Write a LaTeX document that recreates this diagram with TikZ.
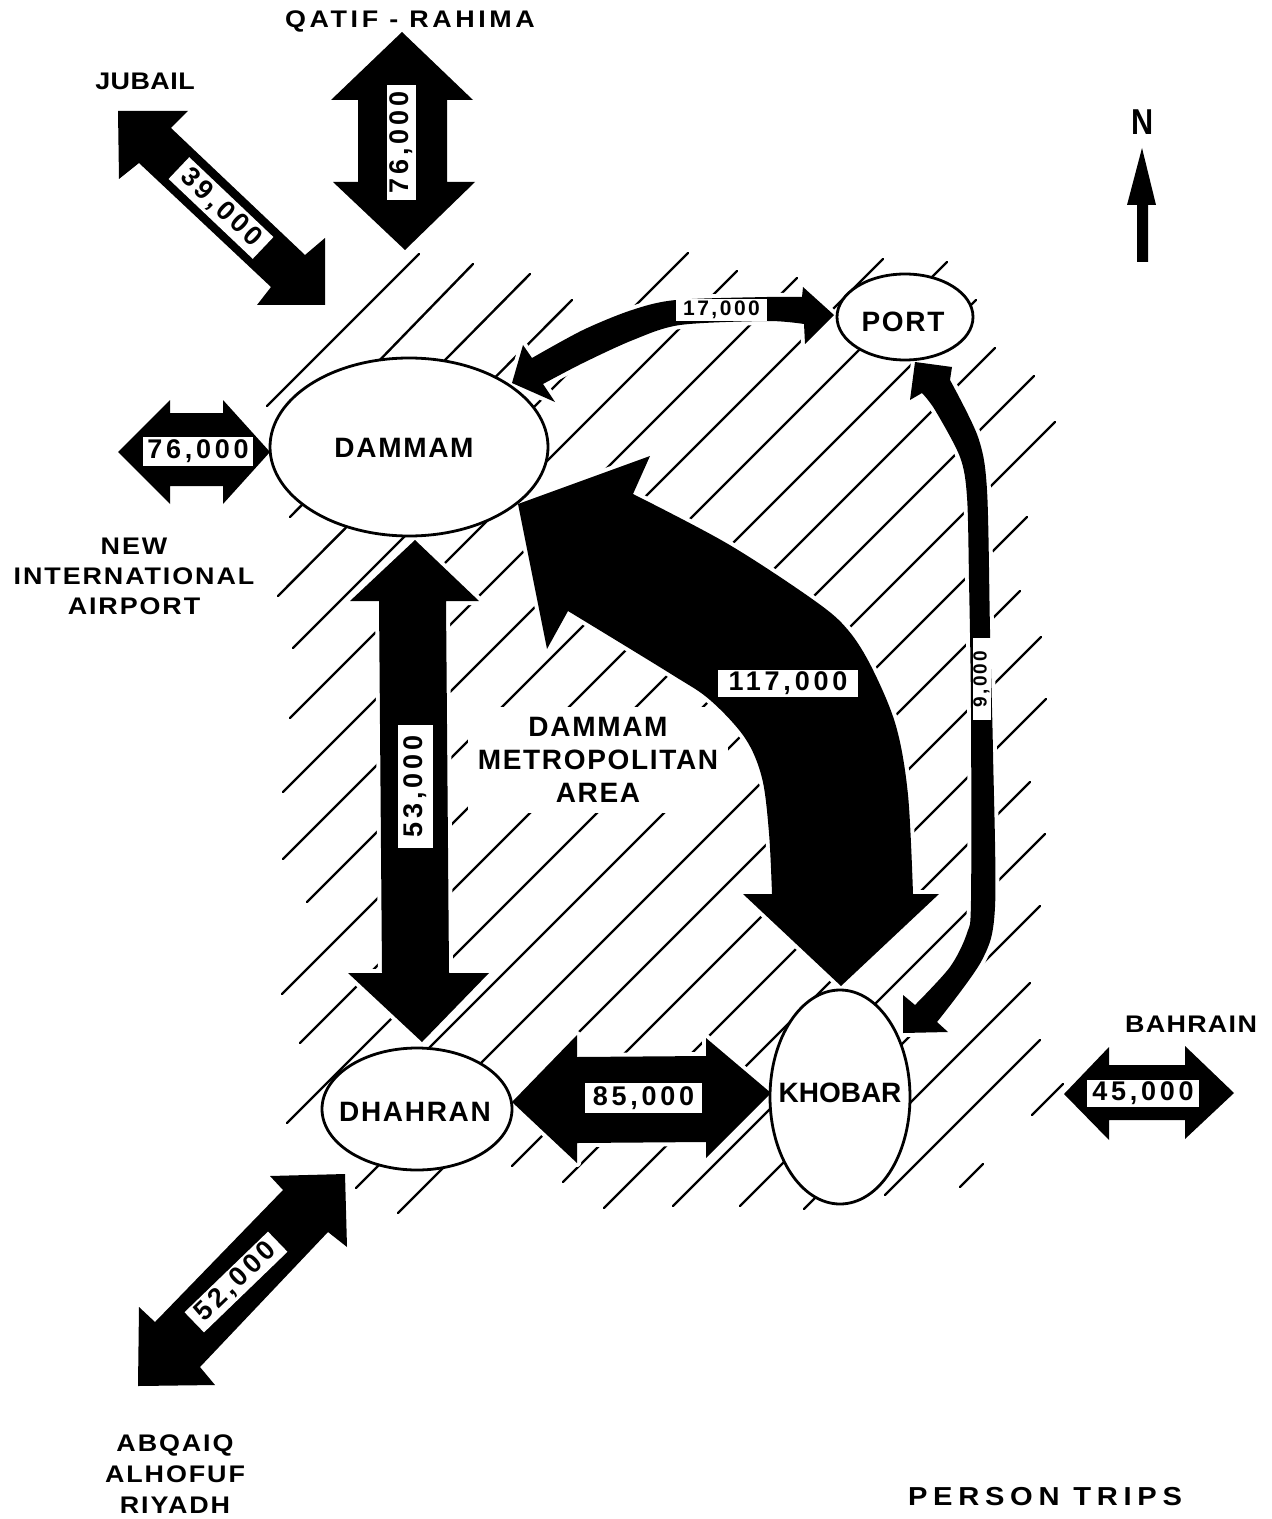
\documentclass[tikz,border=0pt]{standalone}
\usepackage{fontspec}
\usetikzlibrary{shapes.geometric}
\setmainfont{Liberation Sans}
\newfontfamily\lblf[LetterSpace=6]{Liberation Sans}
\newfontfamily\jubf[LetterSpace=2,FakeStretch=1.12]{Liberation Sans}
\newfontfamily\placef[LetterSpace=8,FakeStretch=1.12]{Liberation Sans}
\newfontfamily\bahf[LetterSpace=5.5,FakeStretch=1.12]{Liberation Sans}
\newfontfamily\qatf[LetterSpace=15,FakeStretch=1.12]{Liberation Sans}
\newfontfamily\tripf[LetterSpace=22,FakeStretch=1.12]{Liberation Sans}
\newfontfamily\numf[LetterSpace=14]{Liberation Sans}
\newfontfamily\snumf[LetterSpace=12]{Liberation Sans}
\begin{document}
\begin{tikzpicture}[x=0.5pt,y=-0.5pt,
  hatch/.style={line width=1.2pt, line cap=round},
  blockarrow/.style={fill=black, preaction={draw=white, line width=4pt, line join=round}},
  town/.style={ellipse, draw, line width=1.4pt, fill=white, inner sep=0pt},
  townlbl/.style={inner sep=0pt, font=\lblf\bfseries\fontsize{14}{16}\selectfont},
  numbox/.style={fill=white, inner sep=0pt, font=\numf\bfseries\fontsize{13.5}{15}\selectfont},
  smallnum/.style={fill=white, inner sep=0pt, font=\snumf\bfseries\fontsize{10.5}{12}\selectfont},
  placename/.style={font=\placef\bfseries\fontsize{12}{15}\selectfont, align=center, inner sep=0pt},
]
\useasboundingbox (0,0) rectangle (1271,1519);

% ---------- hatched metropolitan area ----------
\foreach \a/\b/\c/\d in {419/254/267/406, 473/264/376/364, 530/274/290/517, 572/300/278/596,
   688/253/293/648, 737/271/290/718, 797/278/283/792, 883/259/283/859, 947/262/307/902,
   976/300/282/994, 995/348/300/1043, 1034/376/287/1123, 1055/422/340/1137, 1027/517/356/1188,
   1020/591/398/1213, 1041/637/512/1166, 1046/699/563/1182, 1030/782/604/1208, 1045/834/673/1206,
   1040/906/740/1206, 1030/983/804/1209, 1040/1040/885/1195, 1063/1084/1032/1115, 983/1164/960/1187}
  \draw[hatch] (\a,\b) -- (\c,\d);

\node[fill=white, inner sep=5pt, align=center, font=\lblf\bfseries\fontsize{14}{16.5}\selectfont]
  (metro) at (598,760) {DAMMAM\\METROPOLITAN\\AREA};

% ---------- block arrows ----------
% Qatif - Rahima
\fill[blockarrow] (402,32) -- (473,100) -- (447,100) -- (447,182) -- (475,182) -- (405,250)
  -- (333,182) -- (358,182) -- (358,100) -- (331,100) -- cycle;
% Jubail
\fill[blockarrow] (118,111) -- (188,111) -- (171,128) -- (305,255) -- (325,238) -- (325,305)
  -- (257,305) -- (271,287) -- (139,163) -- (119,179) -- cycle;
% Airport
\fill[blockarrow] (118,452) -- (170,400) -- (170,413) -- (223,413) -- (223,400) -- (270,452)
  -- (223,504) -- (223,486) -- (170,486) -- (170,504) -- cycle;
% Dammam - Dhahran
\fill[blockarrow] (415,540) -- (479,601) -- (446,601) -- (449,973) -- (489,973) -- (422,1042)
  -- (348,973) -- (382,973) -- (379,601) -- (350,601) -- cycle;
% Dhahran - Khobar
\fill[blockarrow] (512,1102) -- (577,1035) -- (577,1057) -- (706,1056) -- (706,1038) -- (771,1093)
  -- (706,1158) -- (706,1142) -- (577,1143) -- (577,1163) -- cycle;
% Bahrain
\fill[blockarrow] (1064,1094) -- (1109,1047) -- (1109,1065) -- (1185,1065) -- (1185,1046) -- (1234,1093)
  -- (1185,1139) -- (1185,1120) -- (1109,1120) -- (1109,1140) -- cycle;
% Abqaiq
\fill[blockarrow] (345,1174) -- (347,1247) -- (328,1232) -- (200,1367) -- (215,1385) -- (138,1386)
  -- (139,1307) -- (155,1322) -- (283,1190) -- (270,1176) -- cycle;
% Dammam - Khobar (117,000)
\fill[blockarrow] (518,504) -- (650,456) -- (633,494)
  -- plot[smooth, tension=0.55] coordinates {(633,494) (728,544) (815,601) (848,630) (872,668) (896,726) (908,795) (913,894)}
  -- (939,894) -- (841,986) -- (743,894) -- (772,894)
  -- plot[smooth, tension=0.55] coordinates {(772,894) (769,833) (762,778) (745,738) (710,700) (671,674) (568,611)}
  -- (547,649) -- cycle;
% Dammam - Port (17,000)
\fill[blockarrow] (512,383) -- (523,345) -- (532,358)
  -- plot[smooth] coordinates {(532,358) (583,330) (632,310) (676,300) (767,297) (802,297)}
  -- (803,287) -- (834,315) -- (805,344) -- (804,324)
  -- plot[smooth] coordinates {(804,324) (767,321) (680,325) (633,340) (583,363) (543,384)}
  -- (555,402) -- cycle;
% Port - Khobar (9,000)
\fill[blockarrow] (915,362) -- (952,367) -- (950,380)
  -- plot[smooth] coordinates {(950,380) (978,437) (987,490) (990,630) (993,753) (995,907) (982,960) (937,1022)}
  -- (948,1032) -- (903,1033) -- (903,995) -- (915,1005)
  -- plot[smooth] coordinates {(915,1005) (950,967) (967,933) (971,900) (971,710) (969,580) (967,497) (960,457) (935,410) (922,393)}
  -- (910,400) -- cycle;
% North arrow
\node[font=\bfseries\fontsize{18}{20}\selectfont, inner sep=0pt, xscale=0.85] (north) at (1143,122) {N};
\fill (1142,148) -- (1156,205) -- (1148,205) -- (1148,262) -- (1137,262) -- (1137,205) -- (1127,205) -- cycle;

% ---------- towns ----------
\node[town, minimum width=139pt, minimum height=89pt] (dammam) at (409,447) {};
\node[townlbl] (dammamlbl) at (404,448) {DAMMAM};
\node[town, minimum width=68pt, minimum height=43pt] (port) at (905,317) {};
\node[townlbl] (portlbl) at (903,322) {PORT};
\node[town, minimum width=95pt, minimum height=61pt] (dhahran) at (417,1109) {};
\node[townlbl] (dhahranlbl) at (415,1112) {DHAHRAN};
\node[town, minimum width=70pt, minimum height=107pt] (khobar) at (840,1097) {};
\node[townlbl, font=\bfseries\fontsize{14}{16}\selectfont] (khobarlbl) at (840,1093) {KHOBAR};

% ---------- flow labels ----------
\node[numbox, minimum width=57.5pt, minimum height=14.5pt, rotate=90] (qn) at (401.5,142.5) {76,000};
\node[numbox, minimum width=58pt, minimum height=15pt, rotate=-43.5] (jn) at (221,208) {39,000};
\node[numbox, minimum width=55pt, minimum height=14.5pt] (an) at (198,451.5) {76,000};
\node[numbox, minimum width=61.5pt, minimum height=17.5pt, rotate=90] (dn) at (415.5,786.5) {53,000};
\node[numbox, minimum width=58.5pt, minimum height=15pt] (kn) at (643.5,1098) {85,000};
\node[numbox, minimum width=56pt, minimum height=13.5pt] (bn) at (1143,1093.5) {45,000};
\node[numbox, minimum width=58pt, minimum height=14pt, rotate=44] (rn) at (236,1282) {52,000};
\node[numbox, minimum width=70pt, minimum height=13.5pt] (mn) at (788,683.5) {117,000};
\node[smallnum, minimum width=45.5pt, minimum height=11pt] (pn) at (721.5,310) {17,000};
\node[smallnum, minimum width=41pt, minimum height=9pt, rotate=90, font=\snumf\bfseries\fontsize{9.5}{10}\selectfont] (nn) at (981.5,679) {9,000};

% ---------- place names ----------
\node[placename, font=\qatf\bfseries\fontsize{12}{15}\selectfont] (qatif) at (410,21) {QATIF - RAHIMA};
\node[placename, font=\jubf\bfseries\fontsize{12}{15}\selectfont] (jubail) at (145,81) {JUBAIL};
\node[placename, font=\placef\bfseries\fontsize{12}{15}\selectfont] (airport) at (134,576) {NEW\\INTERNATIONAL\\AIRPORT};
\node[placename, font=\placef\bfseries\fontsize{12}{15.5}\selectfont] (abqaiq) at (175,1474) {ABQAIQ\\ALHOFUF\\RIYADH};
\node[placename, font=\bahf\bfseries\fontsize{12}{15}\selectfont] (bahrain) at (1191,1024) {BAHRAIN};
\node[placename, font=\tripf\bfseries\fontsize{13}{15}\selectfont] (trips) at (1045,1497) {PERSON TRIPS};
\end{tikzpicture}
\end{document}
